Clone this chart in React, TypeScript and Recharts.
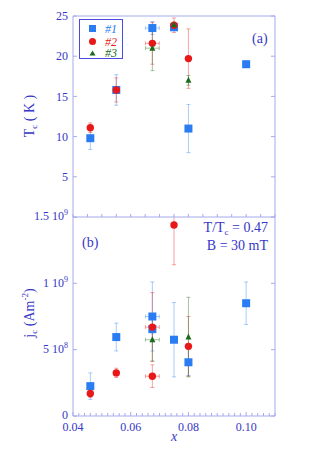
import React from 'react';
import { ScatterChart, Scatter, XAxis, YAxis, ErrorBar, Legend, CartesianGrid } from 'recharts';

// composition x shared by both panels
const blueX = [0.046, 0.055, 0.0675, 0.075, 0.08, 0.1];
const blueTc = [9.8, 15.8, 23.5, 23.6, 11.0, 19.0];
const blueTcErr = [1.4, 1.9, 0.8, 0.4, 3.0, 0.4];
const blueTcXErr = [0, 0, 0.0024, 0, 0, 0];

const redX = [0.046, 0.055, 0.0675, 0.075, 0.08];
const redTc = [11.1, 15.8, 21.6, 23.85, 19.7];
const redTcErr = [0.6, 1.5, 2.6, 0.9, 3.7];
const redTcXErr = [0, 0, 0.0024, 0, 0];

const greenX = [0.0675, 0.075, 0.08];
const greenTc = [21.0, 23.9, 17.0];
const greenTcErr = [2.8, 0.3, 0.6];
const greenTcXErr = [0.0024, 0, 0];

const blueJX = [0.046, 0.055, 0.0675, 0.0675, 0.075, 0.08, 0.1];
const blueJc = [2.25e8, 5.95e8, 7.5e8, 6.55e8, 5.75e8, 4.05e8, 8.5e8];
const blueJcErr = [1.0e8, 1.05e8, 2.6e8, 0.3e8, 2.8e8, 1.0e8, 1.6e8];
const blueJcXErr = [0, 0, 0.0024, 0, 0, 0, 0];

const redJX = [0.046, 0.055, 0.0675, 0.0675, 0.075, 0.08];
const redJc = [1.7e8, 3.25e8, 6.7e8, 3.0e8, 1.44e9, 5.25e8];
const redJcErr = [0.3e8, 0.35e8, 2.6e8, 0.85e8, 0.3e9, 2.25e8];
const redJcXErr = [0, 0, 0.0024, 0.0024, 0, 0];

const greenJX = [0.0675, 0.08];
const greenJc = [5.75e8, 5.95e8];
const greenJcErr = [1.6e8, 3.0e8];
const greenJcXErr = [0.0024, 0];

const xLabelTicks = [0.04, 0.06, 0.08, 0.1];
const xLabels = ['0.04', '0.06', '0.08', '0.10'];
const xMinorTicks = Array.from({ length: 36 }, (_, i) => +(0.04 + i * 0.002).toFixed(3));
const sepTicks = Array.from({ length: 15 }, (_, i) => +(0.04 + i * 0.005).toFixed(3));
const topTicks = [0.04, 0.05, 0.06, 0.07, 0.08, 0.09, 0.1, 0.11];
const tcTicks = [0, 5, 10, 15, 20, 25];
const jcTicks = [0, 5e8, 1e9, 1.5e9];
const jcLabels: Record<number, [string, string]> = {
  0: ['0', ''],
  500000000: ['5 10', '8'],
  1000000000: ['1 10', '9'],
  1500000000: ['1.5 10', '9'],
};

const FONT = '"Liberation Serif", "Times New Roman", serif';
const INK = '#3636c8';
const FRAME = '#a6aaee';
const BLUE = '#2a7cf2';
const RED = '#e81818';
const GREEN = '#1b6b1b';

const build = (xs: number[], ys: number[], ey: number[], ex: number[]) =>
  xs.map((x, i) => ({ x, y: ys[i], ey: ey[i], ex: ex[i] }));

const tcBlue = build(blueX, blueTc, blueTcErr, blueTcXErr);
const tcRed = build(redX, redTc, redTcErr, redTcXErr);
const tcGreen = build(greenX, greenTc, greenTcErr, greenTcXErr);
const jcBlue = build(blueJX, blueJc, blueJcErr, blueJcXErr);
const jcRed = build(redJX, redJc, redJcErr, redJcXErr);
const jcGreen = build(greenJX, greenJc, greenJcErr, greenJcXErr);

const Square = (p: any) => <rect x={p.cx - 4} y={p.cy - 4} width={8} height={8} fill={BLUE} />;
const Dot = (p: any) => <circle cx={p.cx} cy={p.cy} r={3.7} fill={RED} />;
const Tri = (p: any) => (
  <polygon points={`${p.cx},${p.cy - 3.5} ${p.cx - 3},${p.cy + 2.5} ${p.cx + 3},${p.cy + 2.5}`} fill={GREEN} />
);

const txt = { fontFamily: FONT, fill: INK };

const LeftTcTick = (p: any) => (
  <g>
    <line x1={p.x} x2={p.x + 4} y1={p.y} y2={p.y} stroke={FRAME} />
    {p.payload.value !== 0 && (
      <text x={p.x - 5} y={p.y} dy="0.35em" textAnchor="end" fontSize={12} {...txt}>
        {p.payload.value}
      </text>
    )}
  </g>
);

const LeftJcTick = (p: any) => {
  const [m, e] = jcLabels[p.payload.value] || ['', ''];
  return (
    <g>
      <line x1={p.x} x2={p.x + 4} y1={p.y} y2={p.y} stroke={FRAME} />
      <text x={p.x - 5} y={p.y - 1} dy="0.35em" textAnchor="end" fontSize={12} {...txt}>
        {m}
        {e && (
          <tspan fontSize={8} dy={-5}>
            {e}
          </tspan>
        )}
      </text>
    </g>
  );
};

const RightTick = (p: any) => <line x1={p.x} x2={p.x - 4} y1={p.y} y2={p.y} stroke={FRAME} />;
const UpTick = (p: any) => <line x1={p.x} x2={p.x} y1={p.y} y2={p.y - 3} stroke={FRAME} />;
const DownTick = (p: any) => <line x1={p.x} x2={p.x} y1={p.y} y2={p.y + 3} stroke={FRAME} />;

const BottomTick = (p: any) => {
  const k = xLabelTicks.findIndex((v) => Math.abs(v - p.payload.value) < 1e-6);
  return (
    <g>
      <line x1={p.x} x2={p.x} y1={p.y} y2={p.y - (k >= 0 ? 4 : 3)} stroke={FRAME} />
      {k >= 0 && (
        <text x={p.x} y={p.y + 14.5} textAnchor="middle" fontSize={12} {...txt}>
          {xLabels[k]}
        </text>
      )}
    </g>
  );
};

const LegendBox = () => (
  <svg width={45} height={41} style={{ display: 'block' }}>
    <rect x={0.5} y={0.5} width={43} height={39} fill="none" stroke="#4a4ae0" />
    <rect x={10} y={6} width={7} height={7} fill={BLUE} />
    <circle cx={13.5} cy={22.5} r={3.5} fill={RED} />
    <polygon points="13.5,31.5 10.5,36.5 16.5,36.5" fill={GREEN} />
    <text x={26} y={14} fontSize={12} fontStyle="italic" fontFamily={FONT} fill={BLUE}>#1</text>
    <text x={26} y={26.5} fontSize={12} fontStyle="italic" fontFamily={FONT} fill={RED}>#2</text>
    <text x={26} y={38} fontSize={12} fontStyle="italic" fontFamily={FONT} fill={GREEN}>#3</text>
  </svg>
);

const errProps = { strokeWidth: 1, strokeOpacity: 0.4 };

const series = (data: any[], color: string, Shape: any, name: string) => (
  <Scatter key={name} name={name} data={data} shape={Shape} fill={color} isAnimationActive={false}>
    <ErrorBar dataKey="ey" direction="y" width={2} stroke={color} {...errProps} />
    <ErrorBar dataKey="ex" direction="x" width={2} stroke={color} {...errProps} />
  </Scatter>
);

const X_DOMAIN = [0.04, 0.11];

export default function App() {
  return (
    <div style={{ position: 'absolute', left: 0, top: 0, width: 332, height: 470, background: '#fff' }}>
      <div style={{ position: 'absolute', left: 0, top: 0 }}>
        <ScatterChart width={332} height={470} margin={{ top: 217, right: 56, bottom: 24, left: 13 }}>
          <XAxis
            type="number"
            dataKey="x"
            domain={X_DOMAIN}
            allowDataOverflow
            ticks={xMinorTicks}
            interval={0}
            height={30}
            tickSize={0}
            tickMargin={0}
            tickLine={false}
            axisLine={{ stroke: FRAME }}
            tick={BottomTick}
          />
          <YAxis
            type="number"
            dataKey="y"
            domain={[0, 1.5e9]}
            allowDataOverflow
            ticks={jcTicks}
            interval={0}
            width={60}
            tickSize={0}
            tickMargin={0}
            tickLine={false}
            axisLine={{ stroke: FRAME }}
            tick={LeftJcTick}
          />
          <YAxis
            yAxisId="r"
            orientation="right"
            type="number"
            domain={[0, 1.5e9]}
            allowDataOverflow
            ticks={jcTicks}
            interval={0}
            width={1}
            tickSize={0}
            tickMargin={0}
            tickLine={false}
            axisLine={{ stroke: FRAME }}
            tick={RightTick}
          />
          {series(jcBlue, BLUE, Square, 'j1')}
          {series(jcRed, RED, Dot, 'j2')}
          {series(jcGreen, GREEN, Tri, 'j3')}
        </ScatterChart>
      </div>
      <div style={{ position: 'absolute', left: 0, top: 0 }}>
        <ScatterChart width={332} height={220} margin={{ top: 15, right: 56, bottom: 2, left: 13 }}>
          <CartesianGrid horizontal={false} vertical={false} fill="#fff" />
          <XAxis
            type="number"
            dataKey="x"
            domain={X_DOMAIN}
            allowDataOverflow
            ticks={sepTicks}
            interval={0}
            height={1}
            tickSize={0}
            tickMargin={0}
            tickLine={false}
            axisLine={{ stroke: FRAME }}
            tick={UpTick}
          />
          <XAxis
            xAxisId="top"
            orientation="top"
            type="number"
            domain={X_DOMAIN}
            allowDataOverflow
            ticks={topTicks}
            interval={0}
            height={1}
            tickSize={0}
            tickMargin={0}
            tickLine={false}
            axisLine={{ stroke: FRAME }}
            tick={DownTick}
          />
          <YAxis
            type="number"
            dataKey="y"
            domain={[0, 25]}
            allowDataOverflow
            ticks={tcTicks}
            interval={0}
            width={60}
            tickSize={0}
            tickMargin={0}
            tickLine={false}
            axisLine={{ stroke: FRAME }}
            tick={LeftTcTick}
          />
          <YAxis
            yAxisId="r"
            orientation="right"
            type="number"
            domain={[0, 25]}
            allowDataOverflow
            ticks={tcTicks}
            interval={0}
            width={1}
            tickSize={0}
            tickMargin={0}
            tickLine={false}
            axisLine={{ stroke: FRAME }}
            tick={RightTick}
          />
          {series(tcBlue, BLUE, Square, '#1')}
          {series(tcRed, RED, Dot, '#2')}
          {series(tcGreen, GREEN, Tri, '#3')}
          <Legend
            layout="horizontal"
            verticalAlign="middle"
            align="center"
            content={LegendBox}
            wrapperStyle={{ position: 'absolute', left: 79, top: 19, width: 'auto', height: 'auto' }}
          />
        </ScatterChart>
      </div>
      <svg width={332} height={470} style={{ position: 'absolute', left: 0, top: 0, pointerEvents: 'none' }}>
        <g fontFamily={FONT} fill={INK} fontSize={14}>
          <text transform="rotate(-90, 34, 116)" x={34} y={116} textAnchor="middle">
            T<tspan fontSize={9} dy={3}>c</tspan>
            <tspan dy={-3}> ( K )</tspan>
          </text>
          <text transform="rotate(-90, 34, 313)" x={34} y={313} textAnchor="middle">
            j<tspan fontSize={9} dy={3}>c</tspan>
            <tspan dy={-3}> (Am</tspan>
            <tspan fontSize={9} dy={-6}>-2</tspan>
            <tspan dy={6}>)</tspan>
          </text>
          <text x={252} y={43}>(a)</text>
          <text x={82} y={247}>(b)</text>
          <text x={268} y={232} textAnchor="end">
            T/T<tspan fontSize={9} dy={3}>c</tspan>
            <tspan dy={-3}> = 0.47</tspan>
          </text>
          <text x={268} y={250} textAnchor="end">B = 30 mT</text>
          <text x={174} y={441} textAnchor="middle" fontStyle="italic">x</text>
        </g>
      </svg>
    </div>
  );
}
